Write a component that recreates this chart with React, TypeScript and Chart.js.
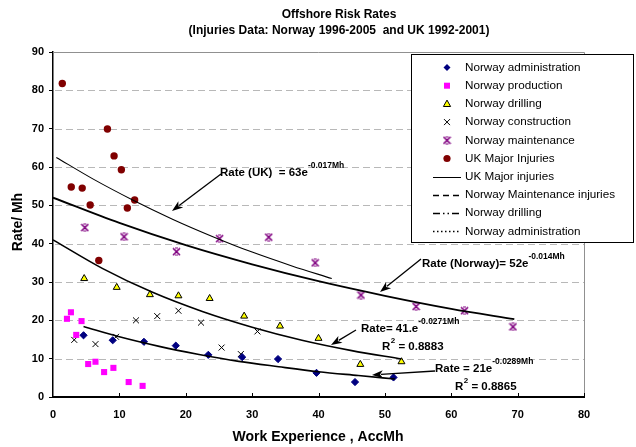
import React, { useEffect, useRef } from 'react';
import { Chart, registerables } from 'chart.js';

Chart.register(...registerables);

const FONT = "'Liberation Sans', Arial, sans-serif";

// ---- scatter data (x = work experience AccMh, y = rate / Mh) ----
const norwayAdministration: [number, number][] = [
  [4.6, 16.1], [9.0, 14.8], [13.7, 14.4], [18.5, 13.4], [23.4, 11.0],
  [28.5, 10.4], [33.9, 9.9], [39.7, 6.3], [45.5, 3.9], [51.3, 5.1],
];
const norwayProduction: [number, number][] = [
  [2.1, 20.4], [2.7, 22.1], [3.5, 16.2], [4.3, 19.8], [5.3, 8.6],
  [6.4, 9.2], [7.7, 6.5], [9.1, 7.6], [11.4, 3.9], [13.5, 2.9],
];
const norwayDrilling: [number, number][] = [
  [4.7, 30.9], [9.6, 28.6], [14.6, 26.7], [18.9, 26.4], [23.6, 25.7],
  [28.8, 21.1], [34.2, 18.5], [40.0, 15.3], [46.3, 8.5], [52.5, 9.2],
];
const norwayConstruction: [number, number][] = [
  [3.2, 14.9], [6.4, 13.8], [9.5, 15.7], [12.5, 20.0], [15.7, 21.1],
  [18.9, 22.5], [22.3, 19.4], [25.4, 12.9], [28.3, 11.2], [30.8, 17.1],
];
const norwayMaintenance: [number, number][] = [
  [4.8, 44.2], [10.7, 41.8], [18.6, 37.9], [25.1, 41.3], [32.5, 41.7],
  [39.5, 35.0], [46.4, 26.6], [54.7, 23.6], [62.0, 22.5], [69.3, 18.3],
];
const ukMajorInjuries: [number, number][] = [
  [1.4, 81.8], [2.75, 54.8], [4.4, 54.5], [5.6, 50.1], [6.9, 35.6],
  [8.2, 69.9], [9.2, 62.9], [10.3, 59.3], [11.2, 49.3], [12.3, 51.4],
];

// ---- trend curves, points ----
const ukTrend: [number, number][] = [
  [0.5, 62.5], [6, 56.9], [12, 51.4], [18, 46.4], [24, 41.9], [30, 37.8], [36, 34.2], [42, 30.9],
];
const maintenanceTrend: [number, number][] = [
  [0, 52], [10, 45.4], [20, 39.6], [30, 34.6], [40, 30.2], [50, 26.4], [60, 23.0], [69.5, 20.3],
];
const drillingTrend: [number, number][] = [
  [0, 41], [7.5, 33.5], [15, 27.3], [22.5, 22.3], [30, 18.2], [37.5, 14.8], [45, 12.1], [52.5, 9.9],
];
const administrationTrend: [number, number][] = [
  [4.6, 18.4], [10, 15.7], [16, 13.2], [22, 11.1], [28, 9.3], [34, 7.9], [40, 6.6], [46, 5.6], [51.5, 4.7],
];

const titleLines = ['Offshore Risk Rates', '(Injuries Data: Norway 1996-2005  and UK 1992-2001)'];
const xTitle = 'Work Experience , AccMh';
const yTitle = 'Rate/ Mh';
const legendLabels = [
  'Norway administration', 'Norway production', 'Norway drilling', 'Norway construction',
  'Norway maintenance', 'UK Major Injuries', 'UK Major injuries', 'Norway Maintenance injuries',
  'Norway drilling', 'Norway administration',
];

function toPts(a: [number, number][]) {
  return a.map(([x, y]) => ({ x, y }));
}

function makeMaintMarker(): HTMLCanvasElement {
  const c = document.createElement('canvas');
  c.width = 9;
  c.height = 9;
  const g = c.getContext('2d')!;
  g.strokeStyle = '#800080';
  g.lineWidth = 1.6;
  g.beginPath();
  g.moveTo(1, 1); g.lineTo(8, 8);
  g.moveTo(8, 1); g.lineTo(1, 8);
  g.stroke();
  g.lineWidth = 1;
  g.beginPath();
  g.moveTo(3, 1); g.lineTo(6, 1);
  g.moveTo(3, 8); g.lineTo(6, 8);
  g.moveTo(4.5, 3); g.lineTo(4.5, 6);
  g.stroke();
  return c;
}

function drawArrow(ctx: CanvasRenderingContext2D, x1: number, y1: number, x2: number, y2: number) {
  const ang = Math.atan2(y2 - y1, x2 - x1);
  const L = 11, W = 4;
  ctx.save();
  ctx.strokeStyle = '#000';
  ctx.fillStyle = '#000';
  ctx.lineWidth = 1.3;
  ctx.beginPath();
  ctx.moveTo(x1, y1);
  ctx.lineTo(x2 - Math.cos(ang) * (L - 2), y2 - Math.sin(ang) * (L - 2));
  ctx.stroke();
  ctx.beginPath();
  ctx.moveTo(x2, y2);
  ctx.lineTo(x2 - Math.cos(ang) * L - Math.sin(ang) * W, y2 - Math.sin(ang) * L + Math.cos(ang) * W);
  ctx.lineTo(x2 - Math.cos(ang) * (L - 3), y2 - Math.sin(ang) * (L - 3));
  ctx.lineTo(x2 - Math.cos(ang) * L + Math.sin(ang) * W, y2 - Math.sin(ang) * L - Math.cos(ang) * W);
  ctx.closePath();
  ctx.fill();
  ctx.restore();
}

function drawRate(ctx: CanvasRenderingContext2D, x: number, y: number, main: string, sup: string) {
  ctx.save();
  ctx.fillStyle = '#000';
  ctx.textBaseline = 'middle';
  ctx.textAlign = 'left';
  ctx.font = `bold 11.5px ${FONT}`;
  ctx.fillText(main, x, y);
  const w = ctx.measureText(main).width;
  ctx.font = `bold 8.5px ${FONT}`;
  ctx.fillText(sup, x + w, y - 7);
  ctx.restore();
}

function drawR2(ctx: CanvasRenderingContext2D, x: number, y: number, val: string) {
  ctx.save();
  ctx.fillStyle = '#000';
  ctx.textBaseline = 'middle';
  ctx.textAlign = 'left';
  ctx.font = `bold 11.5px ${FONT}`;
  ctx.fillText('R', x, y);
  const w = ctx.measureText('R').width;
  ctx.font = `bold 8px ${FONT}`;
  ctx.fillText('2', x + w + 0.5, y - 6);
  const w2 = ctx.measureText('2').width;
  ctx.font = `bold 11.5px ${FONT}`;
  ctx.fillText(' = ' + val, x + w + w2 + 0.5, y);
  ctx.restore();
}

function drawMarker(ctx: CanvasRenderingContext2D, kind: string, x: number, y: number, maint: HTMLCanvasElement) {
  ctx.save();
  ctx.lineWidth = 1;
  ctx.beginPath();
  if (kind === 'diamond') {
    ctx.fillStyle = '#000080';
    ctx.moveTo(x, y - 3.5); ctx.lineTo(x + 3.5, y); ctx.lineTo(x, y + 3.5); ctx.lineTo(x - 3.5, y);
    ctx.closePath(); ctx.fill();
  } else if (kind === 'square') {
    ctx.fillStyle = '#FF00FF';
    ctx.fillRect(x - 3, y - 3, 6, 6);
  } else if (kind === 'triangle') {
    ctx.fillStyle = '#FFFF00';
    ctx.strokeStyle = '#000';
    ctx.moveTo(x, y - 3.8); ctx.lineTo(x + 3.6, y + 2.6); ctx.lineTo(x - 3.6, y + 2.6);
    ctx.closePath(); ctx.fill(); ctx.stroke();
  } else if (kind === 'cross') {
    ctx.strokeStyle = '#000';
    ctx.moveTo(x - 3, y - 3); ctx.lineTo(x + 3, y + 3);
    ctx.moveTo(x + 3, y - 3); ctx.lineTo(x - 3, y + 3);
    ctx.stroke();
  } else if (kind === 'maint') {
    ctx.drawImage(maint, x - 4.5, y - 4.5);
  } else if (kind === 'circle') {
    ctx.fillStyle = '#800000';
    ctx.arc(x, y, 3.6, 0, Math.PI * 2);
    ctx.fill();
  }
  ctx.restore();
}

export default function App() {
  const ref = useRef<HTMLCanvasElement | null>(null);

  useEffect(() => {
    if (!ref.current) return;
    const maint = makeMaintMarker();

    const decor = {
      id: 'decor',
      beforeDraw(chart: any) {
        const ctx = chart.ctx as CanvasRenderingContext2D;
        ctx.save();
        ctx.fillStyle = '#fff';
        ctx.fillRect(0, 0, chart.width, chart.height);
        ctx.restore();
      },
      beforeDatasetsDraw(chart: any) {
        const ctx = chart.ctx as CanvasRenderingContext2D;
        const { left, right, top, bottom } = chart.chartArea;
        const y = chart.scales.y;
        ctx.save();
        ctx.strokeStyle = '#b8b8b8';
        ctx.lineWidth = 1;
        ctx.setLineDash([7, 4]);
        for (let v = 10; v <= 80; v += 10) {
          const py = Math.round(y.getPixelForValue(v)) + 0.5;
          ctx.beginPath();
          ctx.moveTo(left + 2, py);
          ctx.lineTo(right, py);
          ctx.stroke();
        }
        ctx.setLineDash([]);
        ctx.strokeStyle = '#909090';
        ctx.beginPath();
        ctx.moveTo(left, top + 0.5);
        ctx.lineTo(right + 0.5, top + 0.5);
        ctx.lineTo(right + 0.5, bottom);
        ctx.stroke();
        // inward x ticks
        const x = chart.scales.x;
        ctx.strokeStyle = '#000';
        ctx.lineWidth = 1;
        for (let v = 10; v <= 80; v += 10) {
          const px = Math.round(x.getPixelForValue(v)) + 0.5;
          ctx.beginPath();
          ctx.moveTo(px, bottom);
          ctx.lineTo(px, bottom - 4);
          ctx.stroke();
        }
        ctx.restore();
      },
      afterDraw(chart: any) {
        const ctx = chart.ctx as CanvasRenderingContext2D;
        ctx.save();
        ctx.fillStyle = '#000';
        ctx.textAlign = 'center';
        ctx.textBaseline = 'middle';
        ctx.font = `bold 12px ${FONT}`;
        ctx.fillText(titleLines[0], 339, 15);
        ctx.fillText(titleLines[1], 339, 31);
        ctx.font = `bold 14px ${FONT}`;
        ctx.fillText(xTitle, 318, 437);
        ctx.save();
        ctx.translate(18, 222);
        ctx.rotate(-Math.PI / 2);
        ctx.fillText(yTitle, 0, 0);
        ctx.restore();
        ctx.restore();

        // annotations
        drawArrow(ctx, 221, 174, 172, 211);
        drawRate(ctx, 220, 173, 'Rate (UK)  = 63e', '-0.017Mh');
        drawArrow(ctx, 421, 259, 380, 292);
        drawRate(ctx, 422, 264, 'Rate (Norway)= 52e', '-0.014Mh');
        drawArrow(ctx, 356, 330, 331, 345);
        drawRate(ctx, 361, 329, 'Rate= 41.e', '-0.0271Mh');
        drawR2(ctx, 382, 347, '0.8883');
        drawArrow(ctx, 435, 371, 372, 375);
        drawRate(ctx, 435, 369, 'Rate = 21e', '-0.0289Mh');
        drawR2(ctx, 455, 387, '0.8865');

        // legend
        const lx = 411, ly = 54, lw = 222, lh = 188;
        ctx.save();
        ctx.fillStyle = '#fff';
        ctx.fillRect(lx, ly, lw, lh);
        ctx.strokeStyle = '#000';
        ctx.lineWidth = 1;
        ctx.strokeRect(lx + 0.5, ly + 0.5, lw, lh);
        const kinds = ['diamond', 'square', 'triangle', 'cross', 'maint', 'circle'];
        const dashes = [[], [6, 4], [7, 3, 1.5, 3, 1.5, 3], [1.5, 2.5]];
        for (let i = 0; i < legendLabels.length; i++) {
          const ry = 67.5 + i * 18.2;
          if (i < 6) {
            drawMarker(ctx, kinds[i], 447, ry, maint);
          } else {
            ctx.save();
            ctx.strokeStyle = '#000';
            ctx.lineWidth = i === 6 ? 1 : 1.4;
            ctx.setLineDash(dashes[i - 6]);
            ctx.beginPath();
            ctx.moveTo(433, Math.round(ry) + 0.5);
            ctx.lineTo(461, Math.round(ry) + 0.5);
            ctx.stroke();
            ctx.restore();
          }
          ctx.fillStyle = '#000';
          ctx.textAlign = 'left';
          ctx.textBaseline = 'middle';
          ctx.font = `11.7px ${FONT}`;
          ctx.fillText(legendLabels[i], 465, ry);
        }
        ctx.restore();
      },
    };

    const lineDs = (label: string, data: [number, number][], w: number) => ({
      label,
      data: toPts(data),
      showLine: true,
      pointRadius: 0,
      borderColor: '#000',
      borderWidth: w,
      cubicInterpolationMode: 'monotone' as const,
      fill: false,
    });

    const chart = new Chart(ref.current, {
      type: 'scatter',
      data: {
        datasets: [
          lineDs('UK Major injuries', ukTrend, 1.1),
          lineDs('Norway Maintenance injuries', maintenanceTrend, 1.8),
          lineDs('Norway drilling', drillingTrend, 1.6),
          lineDs('Norway administration', administrationTrend, 1.6),
          {
            label: 'Norway administration', data: toPts(norwayAdministration),
            pointStyle: 'rectRot', pointRadius: 3.6, backgroundColor: '#000080', borderColor: '#000080', borderWidth: 1,
          },
          {
            label: 'Norway production', data: toPts(norwayProduction),
            pointStyle: 'rect', pointRadius: 4.3, backgroundColor: '#FF00FF', borderColor: '#FF00FF', borderWidth: 0,
          },
          {
            label: 'Norway drilling', data: toPts(norwayDrilling),
            pointStyle: 'triangle', pointRadius: 4, backgroundColor: '#FFFF00', borderColor: '#000', borderWidth: 1,
          },
          {
            label: 'Norway construction', data: toPts(norwayConstruction),
            pointStyle: 'crossRot', pointRadius: 4.2, borderColor: '#000', borderWidth: 1,
          },
          {
            label: 'Norway maintenance', data: toPts(norwayMaintenance),
            pointStyle: maint as any, pointRadius: 4.5,
          },
          {
            label: 'UK Major Injuries', data: toPts(ukMajorInjuries),
            pointStyle: 'circle', pointRadius: 3.7, backgroundColor: '#800000', borderColor: '#800000', borderWidth: 0,
          },
        ],
      },
      options: {
        animation: false,
        responsive: false,
        maintainAspectRatio: false,
        events: [],
        layout: { padding: { top: 52, right: 52, left: 0, bottom: 0 } },
        plugins: { legend: { display: false }, title: { display: false }, tooltip: { enabled: false } },
        scales: {
          x: {
            type: 'linear', min: 0, max: 80, position: 'bottom',
            afterFit: (s: any) => { s.height = 50; },
            grid: { display: false, drawTicks: false },
            border: { display: true, color: '#000', width: 2 },
            ticks: { stepSize: 10, color: '#000', padding: 11, font: { family: FONT, size: 11, weight: 'bold' } },
          },
          y: {
            type: 'linear', min: 0, max: 90,
            afterFit: (s: any) => { s.width = 53; },
            grid: { drawOnChartArea: false, drawTicks: true, tickLength: 4, tickColor: '#000', tickWidth: 1 },
            border: { display: true, color: '#000', width: 1.5 },
            ticks: { stepSize: 10, color: '#000', padding: 5, font: { family: FONT, size: 11, weight: 'bold' } },
          },
        },
      },
      plugins: [decor],
    } as any);

    return () => chart.destroy();
  }, []);

  return (
    <div style={{ position: 'fixed', left: 0, top: 0, width: 636, height: 447, background: '#fff' }}>
      <canvas ref={ref} width={636} height={447} style={{ width: 636, height: 447, display: 'block' }} />
    </div>
  );
}
